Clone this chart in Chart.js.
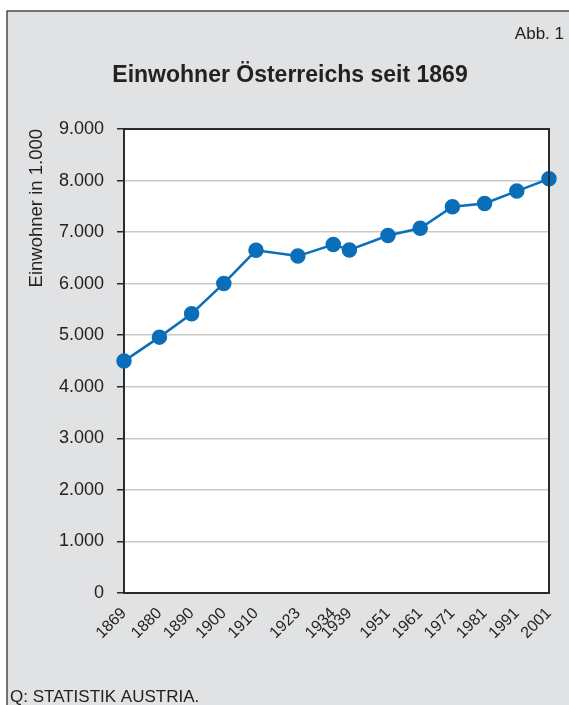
<!DOCTYPE html>
<html>
<head>
<meta charset="utf-8">
<script src="https://cdn.jsdelivr.net/npm/chart.js@4"></script>
<style>
  html, body { margin: 0; padding: 0; background: #fff; }
  #wrap { width: 569px; height: 705px; position: relative; }
</style>
</head>
<body>
<div id="wrap"><canvas id="chart" width="569" height="705"></canvas></div>
<script>
// Volkszählungsjahre und Einwohner (in 1.000)
const jahre = [1869, 1880, 1890, 1900, 1910, 1923, 1934, 1939, 1951, 1961, 1971, 1981, 1991, 2001];
const einwohner = [4498, 4963, 5417, 6004, 6648, 6535, 6760, 6653, 6934, 7074, 7492, 7555, 7796, 8033];
const yTicks = [0, 1000, 2000, 3000, 4000, 5000, 6000, 7000, 8000, 9000];

const FONT = '"Liberation Sans", Arial, sans-serif';
const fmt = v => v === 0 ? '0' : v.toLocaleString('de-DE');

// Hintergrund, Rahmen und Zusatztexte
const rahmen = {
    id: 'rahmen',
    beforeDraw(chart) {
        const ctx = chart.ctx;
        const a = chart.chartArea;
        ctx.save();
        ctx.fillStyle = '#fff';
        ctx.fillRect(0, 0, chart.width, chart.height);
        ctx.fillStyle = '#e1e2e4';
        ctx.fillRect(7, 11, chart.width, chart.height);
        ctx.strokeStyle = '#4a4a4a';
        ctx.lineWidth = 1.5;
        ctx.strokeRect(7, 11, chart.width + 20, chart.height + 20);
        ctx.fillStyle = '#fff';
        ctx.fillRect(a.left, a.top, a.right - a.left, a.bottom - a.top);
        ctx.restore();
    },
    afterDatasetsDraw(chart) {
        const ctx = chart.ctx;
        const a = chart.chartArea;
        ctx.save();
        ctx.strokeStyle = '#2b2b2b';
        ctx.lineWidth = 2;
        ctx.beginPath();
        ctx.moveTo(a.left, a.top);
        ctx.lineTo(a.right, a.top);
        ctx.lineTo(a.right, a.bottom);
        ctx.stroke();
        ctx.restore();
    },
    afterDraw(chart) {
        const ctx = chart.ctx;
        ctx.save();
        ctx.fillStyle = '#222';
        ctx.textBaseline = 'middle';
        ctx.font = '17px ' + FONT;
        ctx.textAlign = 'right';
        ctx.fillText('Abb. 1', 564, 34);
        ctx.textAlign = 'center';
        ctx.font = 'bold 23px ' + FONT;
        ctx.fillText('Einwohner Österreichs seit 1869', 290, 76);
        ctx.textAlign = 'left';
        ctx.font = '17px ' + FONT;
        ctx.fillText('Q: STATISTIK AUSTRIA.', 10, 697);
        ctx.restore();
    }
};

new Chart(document.getElementById('chart'), {
    type: 'line',
    data: {
        datasets: [{
            data: jahre.map((j, i) => ({ x: j, y: einwohner[i] })),
            borderColor: '#0a6fb8',
            backgroundColor: '#0a6fb8',
            borderWidth: 2.5,
            pointRadius: 6.5,
            pointHoverRadius: 6.5,
            tension: 0,
            clip: false
        }]
    },
    options: {
        responsive: false,
        animation: false,
        layout: { padding: { left: 0, top: 129, right: 20, bottom: 0 } },
        plugins: { legend: { display: false }, tooltip: { enabled: false } },
        scales: {
            x: {
                type: 'linear',
                min: 1869,
                max: 2001,
                afterBuildTicks: s => { s.ticks = jahre.map(v => ({ value: v })); },
                afterFit: s => { s.height = 112; },
                grid: { display: false },
                border: { color: '#2b2b2b', width: 2 },
                ticks: {
                    autoSkip: false,
                    minRotation: 45,
                    maxRotation: 45,
                    color: '#222',
                    padding: 3,
                    font: { family: FONT, size: 16 },
                    callback: v => String(v)
                }
            },
            y: {
                min: 0,
                max: 9000,
                afterBuildTicks: s => { s.ticks = yTicks.map(v => ({ value: v })); },
                afterFit: s => { s.width = 124; },
                grid: { color: '#c9c9c9', lineWidth: 1.5, tickColor: '#2b2b2b', tickLength: 7 },
                border: { color: '#2b2b2b', width: 2 },
                ticks: {
                    color: '#222',
                    padding: 13,
                    font: { family: FONT, size: 18 },
                    callback: v => fmt(v)
                },
                title: {
                    display: true,
                    text: 'Einwohner in 1.000',
                    align: 'end',
                    color: '#222',
                    padding: { top: 26 },
                    font: { family: FONT, size: 18.5 }
                }
            }
        }
    },
    plugins: [rahmen]
});
</script>
</body>
</html>
